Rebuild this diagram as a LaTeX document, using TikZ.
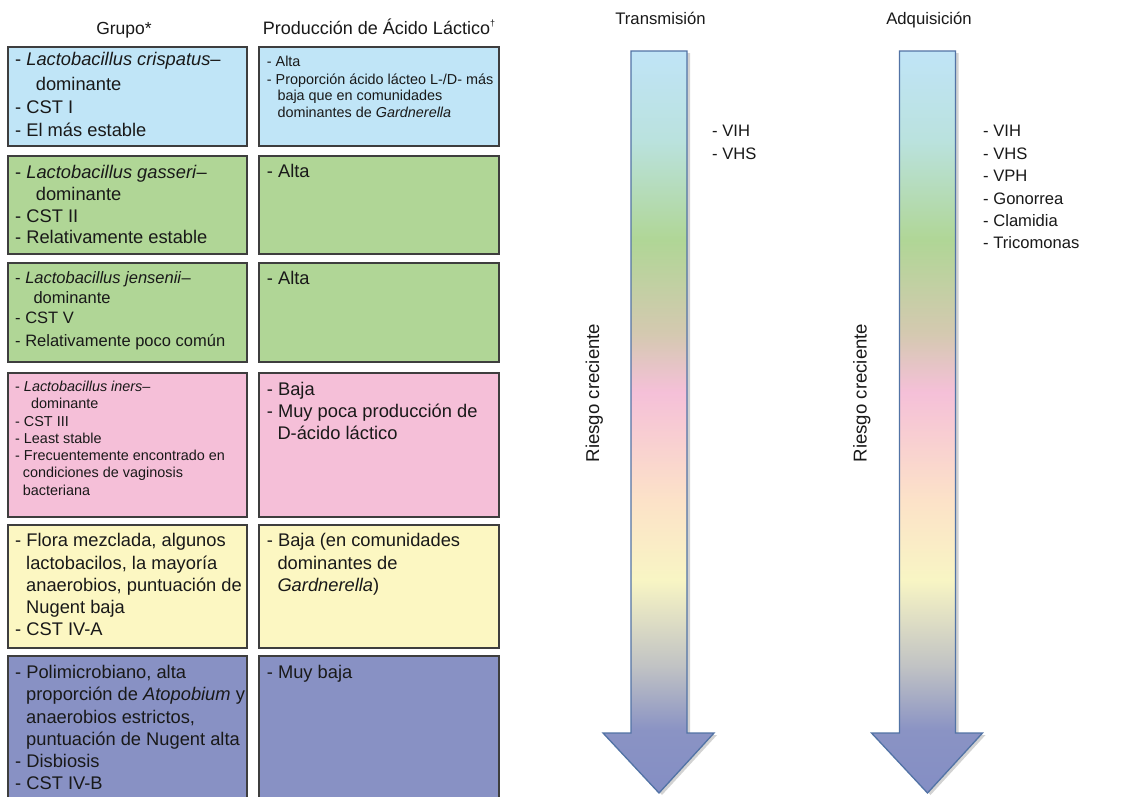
\documentclass[tikz,border=0pt]{standalone}
\usepackage{fontspec}
\setmainfont{Liberation Sans}
\usetikzlibrary{shadows}
\definecolor{cblue}{RGB}{192,229,247}
\definecolor{cgreen}{RGB}{176,214,150}
\definecolor{cpink}{RGB}{245,191,216}
\definecolor{cyellow}{RGB}{252,247,194}
\definecolor{cpurple}{RGB}{136,145,196}
\definecolor{boxline}{RGB}{62,62,62}
\definecolor{arrline}{RGB}{82,115,165}
\definecolor{txt}{RGB}{25,25,25}
\definecolor{s1}{RGB}{192,228,247}
\definecolor{s1b}{RGB}{186,226,222}
\definecolor{s2}{RGB}{176,214,150}
\definecolor{s3}{RGB}{212,201,176}
\definecolor{s4}{RGB}{245,192,216}
\definecolor{s5}{RGB}{252,226,200}
\definecolor{s6}{RGB}{248,245,196}
\definecolor{s7}{RGB}{192,194,196}
\definecolor{s8}{RGB}{138,147,196}
\definecolor{s9}{RGB}{132,142,196}
\pgfdeclareverticalshading{risk}{100bp}{color(0bp)=(s9); color(25bp)=(s9); color(29.25bp)=(s8); color(33.5bp)=(s7); color(39.35bp)=(s6); color(44.75bp)=(s5); color(52bp)=(s4); color(56bp)=(s3); color(62.25bp)=(s2); color(69bp)=(s1b); color(75bp)=(s1); color(100bp)=(s1)}
\tikzset{
  cell/.style={draw=boxline, line width=1.3pt, drop shadow={shadow xshift=1.2pt, shadow yshift=-1.2pt, opacity=.25}},
  t/.style={anchor=base west, inner sep=0pt, text=txt},
  big/.style={font=\fontsize{18.3}{22}\selectfont},
  mid/.style={font=\fontsize{16.5}{20}\selectfont},
  small/.style={font=\fontsize{14.4}{17}\selectfont},
  head/.style={anchor=base, inner sep=0pt, text=txt, font=\fontsize{17.5}{20}\selectfont},
  lst/.style={anchor=base west, inner sep=0pt, text=txt, font=\fontsize{16.6}{20}\selectfont},
  riskarrow/.style={shade, shading=risk, draw=arrline, line width=1.3pt, line join=miter,
    drop shadow={shadow xshift=3pt, shadow yshift=-2pt, opacity=.35}},
}
\begin{document}
\begin{tikzpicture}[x=1pt,y=-1pt]
\clip (0,0) rectangle (1133,796);
\fill[white] (0,0) rectangle (1133,796);

% headers
\node[head] (hg) at (124,34.3) {Grupo*};
\node[head, font=\fontsize{18}{20}\selectfont] (hp) at (379,34.3) {Producción de Ácido Láctico\raisebox{0.45em}{\fontsize{9}{10}\selectfont †}};
\node[head, font=\fontsize{16.7}{20}\selectfont] (ht) at (660.5,24) {Transmisión};
\node[head, font=\fontsize{16.7}{20}\selectfont] (ha) at (929,24) {Adquisición};

% cells
\draw[cell, fill=cblue]   (8,47) rectangle (247,146);
\draw[cell, fill=cblue]   (259,47) rectangle (499,146);
\draw[cell, fill=cgreen]  (8,156) rectangle (247,254);
\draw[cell, fill=cgreen]  (259,156) rectangle (499,254);
\draw[cell, fill=cgreen]  (8,263) rectangle (247,362);
\draw[cell, fill=cgreen]  (259,263) rectangle (499,362);
\draw[cell, fill=cpink]   (8,373) rectangle (247,517);
\draw[cell, fill=cpink]   (259,373) rectangle (499,517);
\draw[cell, fill=cyellow] (8,525) rectangle (247,648);
\draw[cell, fill=cyellow] (259,525) rectangle (499,648);
\draw[cell, fill=cpurple] (8,656) rectangle (247,812);
\draw[cell, fill=cpurple] (259,656) rectangle (499,812);

% row 1
\node[t,big] (a1) at (15,65) {- \textit{Lactobacillus crispatus}–};
\node[t,big] (a2) at (35.7,90.5) {dominante};
\node[t,big] (a3) at (15,113.5) {- CST I};
\node[t,big] (a4) at (15,136.5) {- El más estable};
\node[t,small] (p1) at (266.7,66) {- Alta};
\node[t,small] (p2) at (266.7,84) {- Proporción ácido lácteo L-/D- más};
\node[t,small] (p3) at (277.3,100.7) {baja que en comunidades};
\node[t,small] (p4) at (277.3,117) {dominantes de \textit{Gardnerella}};

% row 2
\node[t,big] (b1) at (15,178) {- \textit{Lactobacillus gasseri}–};
\node[t,big] (b2) at (35.7,200) {dominante};
\node[t,big] (b3) at (15,222) {- CST II};
\node[t,big] (b4) at (15,243.5) {- Relativamente estable};
\node[t,big] (q1) at (266.7,177) {- Alta};

% row 3
\node[t,mid] (c1) at (15,283.3) {- \textit{Lactobacillus jensenii}–};
\node[t,mid] (c2) at (33.3,303.3) {dominante};
\node[t,mid] (c3) at (15,323.5) {- CST V};
\node[t,mid] (c4) at (15,346) {- Relativamente poco común};
\node[t,big] (r1) at (266.7,284) {- Alta};

% row 4
\node[t,small] (d1) at (15,391.7) {- \textit{Lactobacillus iners}–};
\node[t,small] (d2) at (31,408.7) {dominante};
\node[t,small] (d3) at (15,426) {- CST III};
\node[t,small] (d4) at (15,443.3) {- Least stable};
\node[t,small] (d5) at (15,460.7) {- Frecuentemente encontrado en};
\node[t,small] (d6) at (22.7,477.7) {condiciones de vaginosis};
\node[t,small] (d7) at (22.7,495) {bacteriana};
\node[t,big] (s1n) at (266.7,395) {- Baja};
\node[t,big] (s2n) at (266.7,417.7) {- Muy poca producción de};
\node[t,big] (s3n) at (277.3,439.3) {D-ácido láctico};

% row 5
\node[t,big] (e1) at (15,546.7) {- Flora mezclada, algunos};
\node[t,big] (e2) at (26,569) {lactobacilos, la mayoría};
\node[t,big] (e3) at (26,591) {anaerobios, puntuación de};
\node[t,big] (e4) at (26,613.3) {Nugent baja};
\node[t,big] (e5) at (15,635.7) {- CST IV-A};
\node[t,big] (u1) at (266.7,546.7) {- Baja (en comunidades};
\node[t,big] (u2) at (277.3,569) {dominantes de};
\node[t,big] (u3) at (277.3,591) {\textit{Gardnerella})};

% row 6
\node[t,big] (f1) at (15,678.3) {- Polimicrobiano, alta};
\node[t,big] (f2) at (26,700.7) {proporción de \textit{Atopobium} y};
\node[t,big] (f3) at (26,723) {anaerobios estrictos,};
\node[t,big] (f4) at (26,745.3) {puntuación de Nugent alta};
\node[t,big] (f5) at (15,767.3) {- Disbiosis};
\node[t,big] (f6) at (15,789.3) {- CST IV-B};
\node[t,big] (v1) at (266.7,678.3) {- Muy baja};

% arrows
\path[riskarrow] (631,51) -- (687,51) -- (687,733) -- (714,733) -- (659,793) -- (603,733) -- (631,733) -- cycle;
\path[riskarrow] (899.5,51) -- (955.5,51) -- (955.5,733) -- (982.5,733) -- (927.5,793) -- (871.5,733) -- (899.5,733) -- cycle;

\node[head, rotate=90, font=\fontsize{18.6}{20}\selectfont] (rt) at (599,393) {Riesgo creciente};
\node[head, rotate=90, font=\fontsize{18.6}{20}\selectfont] (ra) at (866.5,393) {Riesgo creciente};

% lists
\node[lst] (t1) at (712,136.7) {- VIH};
\node[lst] (t2) at (712,159) {- VHS};
\node[lst] (k1) at (983,136.7) {- VIH};
\node[lst] (k2) at (983,159.2) {- VHS};
\node[lst] (k3) at (983,181.6) {- VPH};
\node[lst] (k4) at (983,204) {- Gonorrea};
\node[lst] (k5) at (983,226.3) {- Clamidia};
\node[lst] (k6) at (983,248.5) {- Tricomonas};
\end{tikzpicture}
\end{document}
